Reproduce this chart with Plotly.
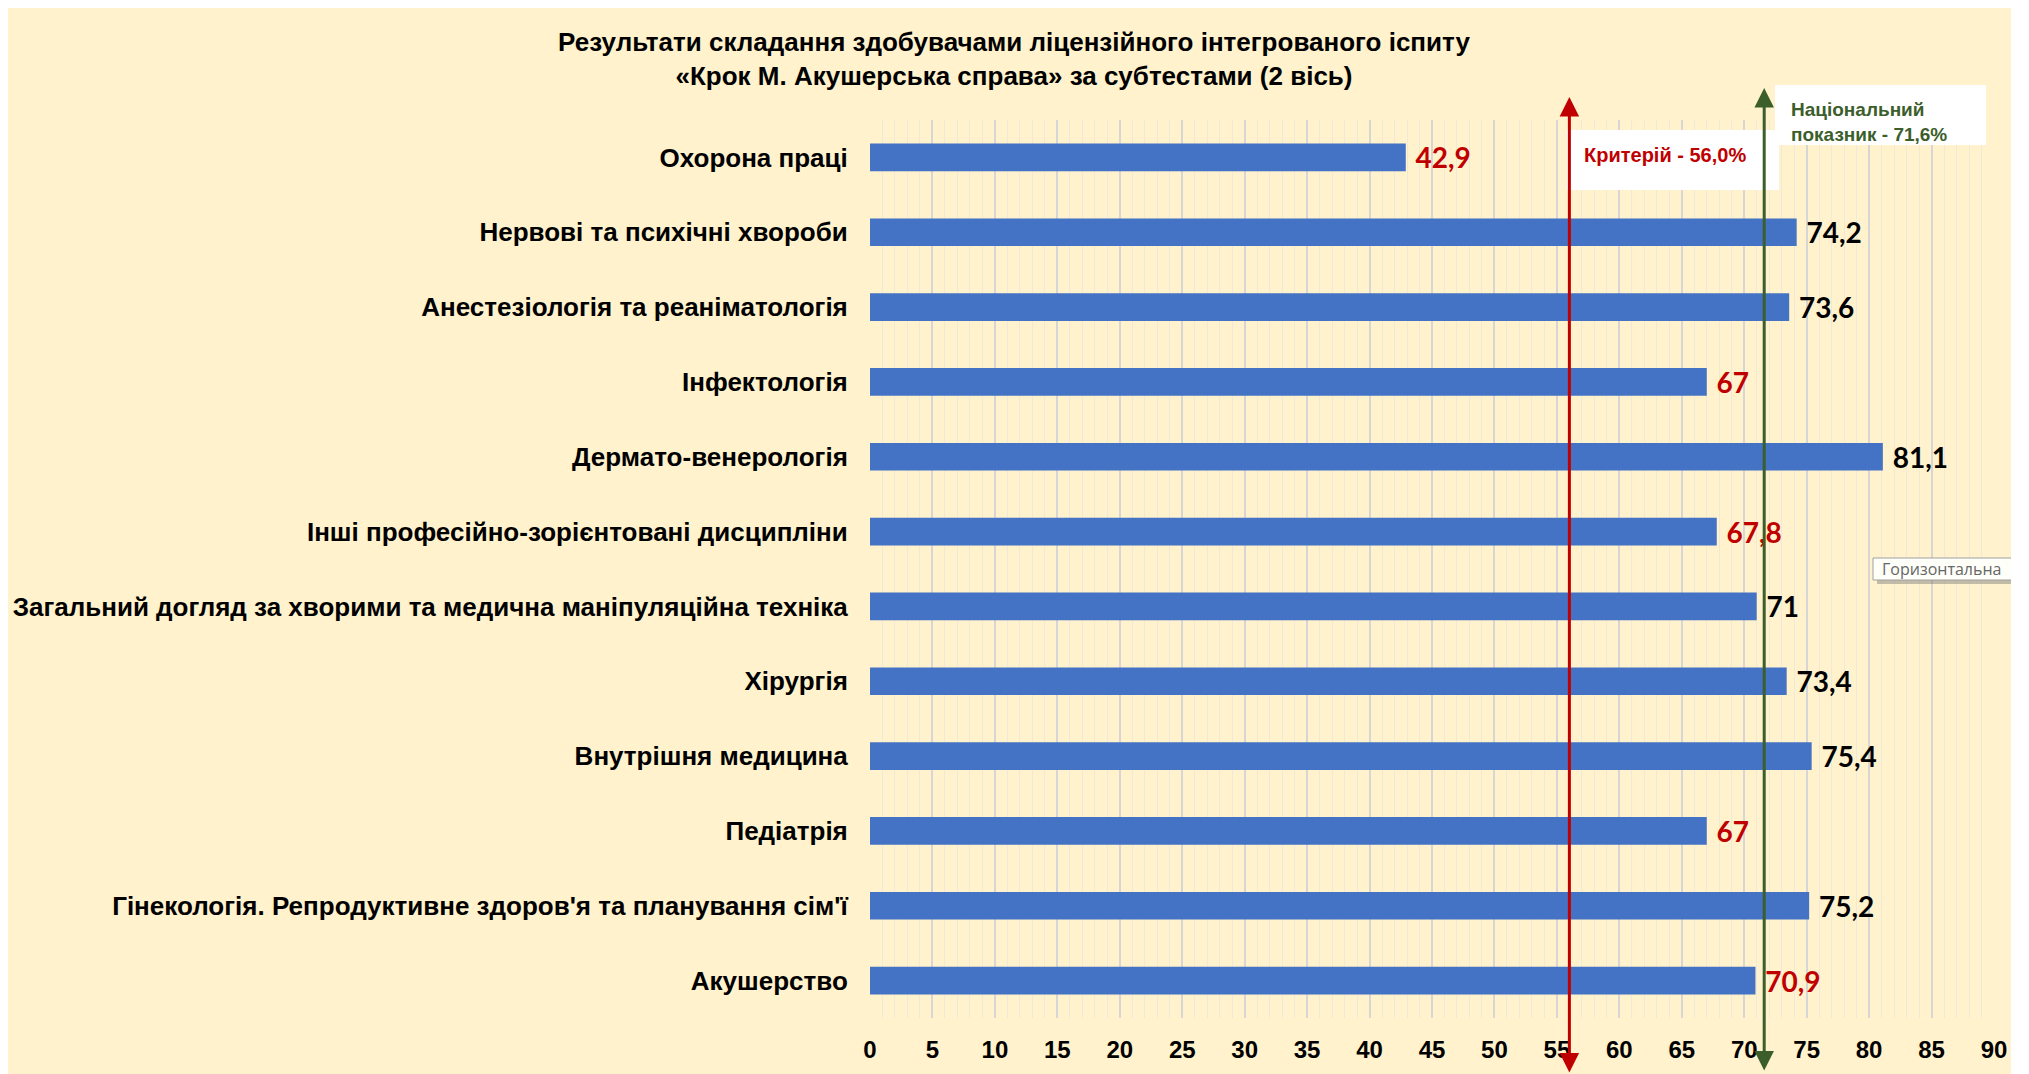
import plotly.graph_objects as go

categories = [
    "Охорона праці",
    "Нервові та психічні хвороби",
    "Анестезіологія та реаніматологія",
    "Інфектологія",
    "Дермато-венерологія",
    "Інші професійно-зорієнтовані дисципліни",
    "Загальний догляд за хворими та медична маніпуляційна техніка",
    "Хірургія",
    "Внутрішня медицина",
    "Педіатрія",
    "Гінекологія. Репродуктивне здоров'я та планування сім'ї",
    "Акушерство",
]
values = [42.9, 74.2, 73.6, 67, 81.1, 67.8, 71, 73.4, 75.4, 67, 75.2, 70.9]
label_colors = ["#C00000", "#000000", "#000000", "#C00000", "#000000", "#C00000",
                "#000000", "#000000", "#000000", "#C00000", "#000000", "#C00000"]
criterion = 56.0
national = 71.6
x_ticks = list(range(0, 95, 5))

# page offset of the figure (default body margin)
OFF = 8
W, H = 2011 - OFF, 1074 - OFF
PL, PR, PT, PB = 870, 1994, 120, 1018   # plot area in page pixels
L, R = PL - OFF, (W + OFF) - PR
T, B = PT - OFF, (H + OFF) - PB
PW, PH = PR - PL, PB - PT

def px(p):
    return (p - PL) / PW

def py(p):
    return (PB - p) / PH

FONT = "Liberation Sans Narrow, Arial Narrow, Liberation Sans, Arial, sans-serif"
YELLOW = "#FFF2CC"
RED = "#C00000"
GREEN = "#3B5E2B"

texts = [(" " + (f"{v:g}").replace(".", ",")) for v in values]

fig = go.Figure()
fig.add_trace(go.Bar(
    y=categories, x=values, orientation="h",
    marker=dict(color="#4472C4", line=dict(width=0)),
    text=texts, textposition="outside", cliponaxis=False, constraintext="none",
    textfont=dict(family="Lato, Carlito, Liberation Sans, sans-serif", size=28,
                  color=label_colors, weight="bold"),
    hoverinfo="skip",
))

shapes = [
    # criterion label box
    dict(type="rect", xref="paper", yref="paper", x0=px(1567), x1=px(1779), y0=py(190), y1=py(130),
         fillcolor="white", line=dict(width=0), layer="above"),
    # national label box
    dict(type="rect", xref="paper", yref="paper", x0=px(1775), x1=px(1986), y0=py(145), y1=py(85),
         fillcolor="white", line=dict(width=0), layer="above"),
    # tooltip shadow and box
    dict(type="rect", xref="paper", yref="paper", x0=px(1877), x1=px(2015), y0=py(584), y1=py(563),
         fillcolor="rgba(120,120,120,0.45)", line=dict(width=0), layer="above"),
    dict(type="rect", xref="paper", yref="paper", x0=px(1873), x1=px(2013), y0=py(580), y1=py(558),
         fillcolor="#FFFFFA", line=dict(color="#A0A0A0", width=1), layer="above"),
]

annotations = [
    dict(x=criterion, xref="x", y=py(97), yref="paper", ax=0, ay=977, axref="pixel", ayref="pixel",
         text="", showarrow=True, arrowhead=2, arrowsize=1.3, arrowwidth=3, arrowcolor=RED,
         arrowside="end+start", standoff=0, startstandoff=0),
    dict(x=national, xref="x", y=py(88), yref="paper", ax=0, ay=984, axref="pixel", ayref="pixel",
         text="", showarrow=True, arrowhead=2, arrowsize=1.3, arrowwidth=3, arrowcolor=GREEN,
         arrowside="end+start", standoff=0, startstandoff=0),
    dict(x=px(1582), xref="paper", y=py(155), yref="paper", xanchor="left", yanchor="middle",
         text="<b>Критерій - 56,0%</b>", showarrow=False,
         font=dict(family=FONT, size=20, color=RED)),
    dict(x=px(1789), xref="paper", y=py(122), yref="paper", xanchor="left", yanchor="middle",
         text="<b>Національний<br>показник - 71,6%</b>", showarrow=False, align="left",
         font=dict(family=FONT, size=19, color=GREEN)),
    dict(x=px(1880), xref="paper", y=py(569), yref="paper", xanchor="left", yanchor="middle",
         text="Горизонтальна", showarrow=False,
         font=dict(family="Open Sans, Noto Sans, sans-serif", size=16, color="#666666")),
]

fig.update_layout(
    width=W, height=H, autosize=False,
    margin=dict(l=L, r=R, t=T, b=B, pad=0, autoexpand=False),
    paper_bgcolor=YELLOW, plot_bgcolor="rgba(0,0,0,0)",
    bargap=0.63, showlegend=False,
    title=dict(
        text="<b>Результати складання здобувачами ліцензійного інтегрованого іспиту<br>"
             "«Крок М. Акушерська справа» за субтестами (2 вісь)</b>",
        x=(1014 - OFF) / W, xanchor="center", xref="container",
        y=1 - (59 - OFF - 8) / H, yanchor="middle", yref="container",
        font=dict(family=FONT, size=26, color="#000000"),
        automargin=False,
    ),
    xaxis=dict(
        range=[0, 90], tickmode="array", tickvals=x_ticks, ticktext=[str(t) for t in x_ticks],
        showgrid=True, gridcolor="#D6D6D6", gridwidth=1.5,
        minor=dict(dtick=1, tick0=0, showgrid=True, gridcolor="#EFE9DA", gridwidth=1),
        zeroline=False, showline=False, automargin=False,
        ticks="outside", ticklen=10, tickcolor="rgba(0,0,0,0)",
        tickfont=dict(family=FONT, size=24, color="#000000", weight="bold"),
        fixedrange=True,
    ),
    yaxis=dict(
        autorange="reversed", showgrid=False, zeroline=False, showline=False, automargin=False,
        ticks="outside", ticklen=16, tickcolor="rgba(0,0,0,0)",
        tickfont=dict(family=FONT, size=26, color="#000000", weight="bold"),
        fixedrange=True,
    ),
    shapes=shapes, annotations=annotations,
)

fig.write_html("out.html")
